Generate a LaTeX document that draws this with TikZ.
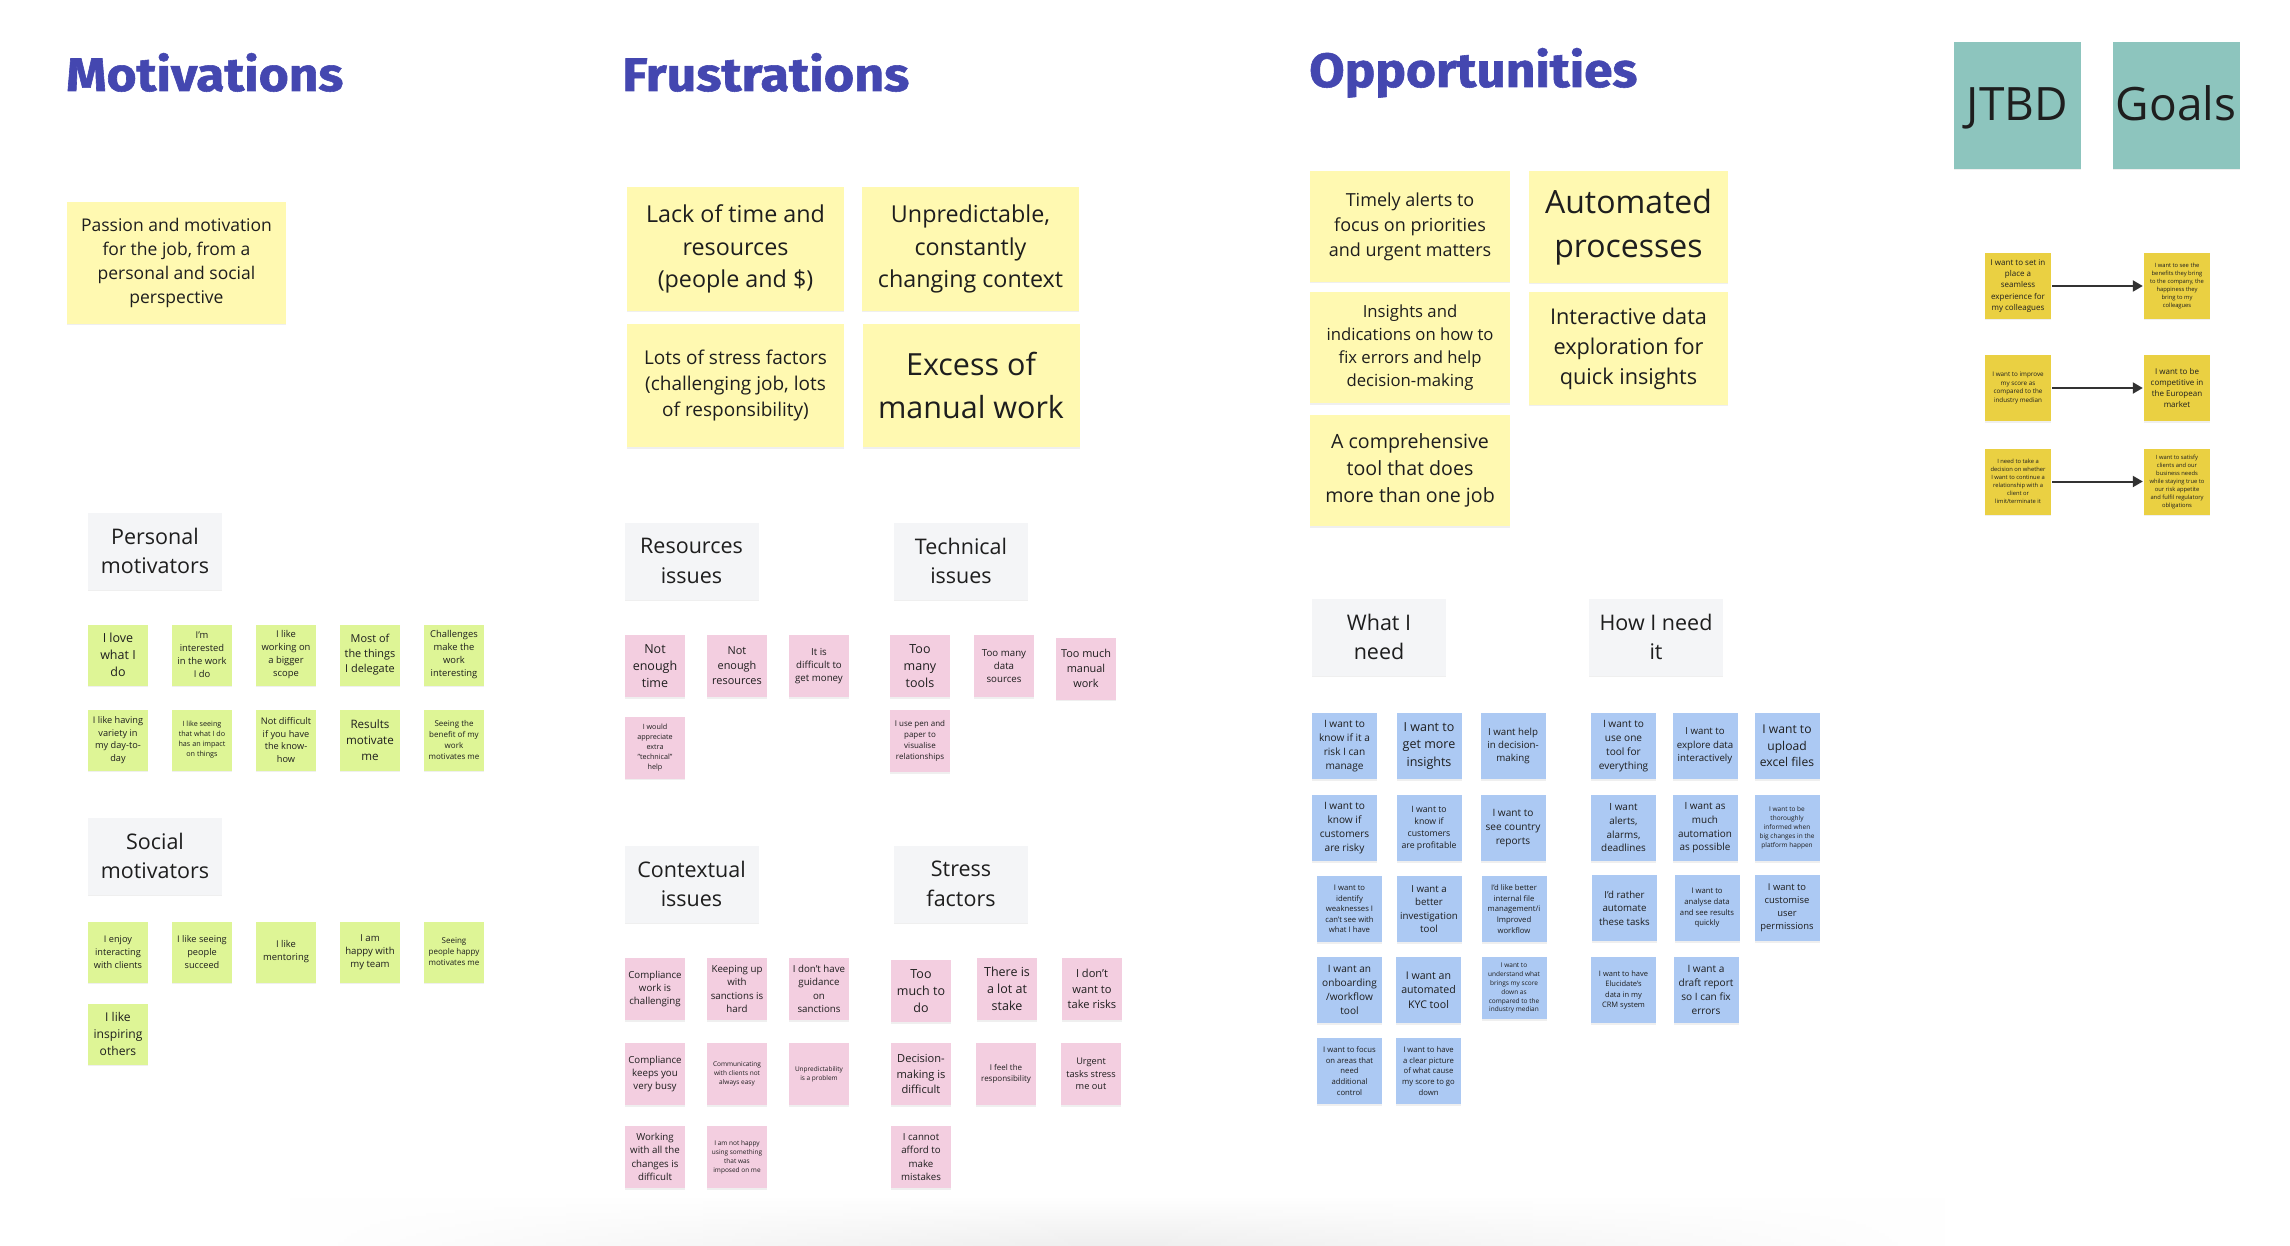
\documentclass[tikz,border=0pt]{standalone}
\usepackage{fontspec}
\setmainfont{Open Sans}
\newfontfamily\headfont{Fira Sans}[BoldFeatures={FakeBold=1.2}]
\usetikzlibrary{arrows.meta,shadows,fadings}
\definecolor{head}{RGB}{68,71,176}
\definecolor{ink}{RGB}{30,30,30}
\definecolor{ly}{RGB}{255,249,177}
\definecolor{gr}{RGB}{222,245,150}
\definecolor{pk}{RGB}{243,206,224}
\definecolor{bl}{RGB}{172,201,243}
\definecolor{tl}{RGB}{141,197,190}
\definecolor{dy}{RGB}{234,208,66}
\definecolor{card}{RGB}{244,245,247}
\definecolor{arrc}{RGB}{50,50,50}
\definecolor{band}{RGB}{238,238,238}
\newcommand\fsz[1]{\fontsize{#1}{\fpeval{#1*1.38}}\selectfont}
\tikzfading[name=fadesides, left color=transparent!100, right color=transparent!100, middle color=transparent!0]
\begin{document}
\begin{tikzpicture}[x=1pt,y=-1pt,
  note/.style={inner sep=0pt, align=center, text=ink,
    drop shadow={shadow xshift=0pt,shadow yshift=-1.5pt,opacity=0.12}},
  yn/.style={note, fill=ly},
  gn/.style={note, fill=gr, minimum width=60pt, minimum height=61pt},
  pn/.style={note, fill=pk, minimum width=60pt, minimum height=62pt},
  bn/.style={note, fill=bl, minimum width=65pt, minimum height=66pt},
  dn/.style={note, fill=dy, minimum width=66pt, minimum height=66pt},
  gc/.style={note, fill=card, minimum width=134pt, minimum height=77pt, font=\fsz{21.5}},
  tb/.style={note, fill=tl, minimum width=127pt, minimum height=127pt},
  hd/.style={anchor=base west, inner sep=0pt, text=head, font=\headfont\bfseries},
  arr/.style={draw=arrc, line width=2pt, -{Triangle[length=10pt,width=11pt]}, shorten <=1pt, shorten >=1pt}
]
\fill[white] (0,0) rectangle (2290,1246);
\useasboundingbox (0,0) rectangle (2290,1246);
\shade[top color=white, bottom color=band, path fading=fadesides] (290,1196) rectangle (1945,1246);

% headings
\node[hd] (hMot) at (66,91) {\resizebox{277pt}{38pt}{Motivations}};
\node[hd] (hFru) at (622,91) {\resizebox{287pt}{38pt}{Frustrations}};
\node[hd] (hOpp) at (1309,87) {\resizebox{328pt}{39pt}{Opportunities}};

% JTBD / Goals
\node[tb] (tJ) at (2017.5,105.5) {};
\node[anchor=base, text=ink, font=\fontsize{46}{50}\selectfont, inner sep=0pt] (tJt) at (2017.5,121) {JTBD};
\node[tb] (tG) at (2176,105.5) {};
\node[anchor=base, text=ink, font=\fontsize{46}{50}\selectfont, inner sep=0pt] (tGt) at (2176,121) {Goals};

% big yellow notes
\node[yn, minimum width=219pt, minimum height=122pt, font=\fsz{17.5}] (yPas) at (176.5,263) {Passion and motivation\\for the job, from a\\personal and social\\perspective};
\node[yn, minimum width=217pt, minimum height=124pt, font=\fsz{23.3}] (yLac) at (735.5,249) {Lack of time and\\resources\\(people and \$)};
\node[yn, minimum width=217pt, minimum height=124pt, font=\fsz{23.3}] (yUnp) at (970.5,249) {Unpredictable,\\constantly\\changing context};
\node[yn, minimum width=217pt, minimum height=123pt, font=\fsz{19}] (yLot) at (735.5,385.5) {Lots of stress factors\\(challenging job, lots\\of responsibility)};
\node[yn, minimum width=217pt, minimum height=123pt, font=\fsz{30.5}] (yExc) at (971,385.5) {Excess of\\manual work};
\node[yn, minimum width=200pt, minimum height=111pt, font=\fsz{18}] (yTim) at (1410,226.5) {Timely alerts to\\focus on priorities\\and urgent matters};
\node[yn, minimum width=199pt, minimum height=112pt, font=\fsz{32}] (yAut) at (1628.5,227) {Automated\\processes};
\node[yn, minimum width=200pt, minimum height=111pt, font=\fsz{16.7}] (yIns) at (1410,347.5) {Insights and\\indications on how to\\fix errors and help\\decision-making};
\node[yn, minimum width=199pt, minimum height=112pt, font=\fsz{21.7}] (yInt) at (1628.5,348.5) {Interactive data\\exploration for\\quick insights};
\node[yn, minimum width=200pt, minimum height=111pt, font=\fsz{19.6}] (yCom) at (1410,470.5) {A comprehensive\\tool that does\\more than one job};

% gray cards
\node[gc] (cPer) at (155,551) {Personal\\motivators};
\node[gc] (cSoc) at (155,856) {Social\\motivators};
\node[gc] (cRes) at (691.5,561) {Resources\\issues};
\node[gc] (cTec) at (961,561) {Technical\\issues};
\node[gc] (cCon) at (691.5,884) {Contextual\\issues};
\node[gc] (cStr) at (961,884) {Stress\\factors};
\node[gc] (cWha) at (1379,637) {What I\\need};
\node[gc] (cHow) at (1656,637) {How I need\\it};

% green: personal
\node[gn, font=\fsz{12.5}] (g1) at (118,655) {I love\\what I\\do};
\node[gn, font=\fsz{9.4}] (g2) at (202,655) {I'm\\interested\\in the work\\I do};
\node[gn, font=\fsz{9.4}] (g3) at (286,655) {I like\\working on\\a bigger\\scope};
\node[gn, font=\fsz{10.9}] (g4) at (370,655) {Most of\\the things\\I delegate};
\node[gn, font=\fsz{9.4}] (g5) at (454,655) {Challenges\\make the\\work\\interesting};
\node[gn, font=\fsz{9.2}] (g6) at (118,740) {I like having\\variety in\\my day-to-\\day};
\node[gn, font=\fsz{7.2}] (g7) at (202,740) {I like seeing\\that what I do\\has an impact\\on things};
\node[gn, font=\fsz{9.2}] (g8) at (286,740) {Not difficult\\if you have\\the know-\\how};
\node[gn, font=\fsz{11.6}] (g9) at (370,740) {Results\\motivate\\me};
\node[gn, font=\fsz{8}] (g10) at (454,740) {Seeing the\\benefit of my\\work\\motivates me};
% green: social
\node[gn, font=\fsz{9.2}] (s1) at (118,952) {I enjoy\\interacting\\with clients};
\node[gn, font=\fsz{9.2}] (s2) at (202,952) {I like seeing\\people\\succeed};
\node[gn, font=\fsz{9.4}] (s3) at (286,952) {I like\\mentoring};
\node[gn, font=\fsz{9.6}] (s4) at (370,952) {I am\\happy with\\my team};
\node[gn, font=\fsz{8}] (s5) at (454,952) {Seeing\\people happy\\motivates me};
\node[gn, font=\fsz{12.1}] (s6) at (118,1034) {I like\\inspiring\\others};

% pink: resources
\node[pn, font=\fsz{12.5}] (p1) at (655,666) {Not\\enough\\time};
\node[pn, font=\fsz{10.9}] (p2) at (737,666) {Not\\enough\\resources};
\node[pn, font=\fsz{9.7}] (p3) at (819,666) {It is\\difficult to\\get money};
\node[pn, font=\fsz{7.2}] (p4) at (655,747.5) {I would\\appreciate\\extra\\"technical"\\help};
% pink: technical
\node[pn, font=\fsz{12.5}] (p5) at (920,666) {Too\\many\\tools};
\node[pn, font=\fsz{9.7}] (p6) at (1004,666) {Too many\\data\\sources};
\node[pn, font=\fsz{10.9}] (p7) at (1086,668.5) {Too much\\manual\\work};
\node[pn, font=\fsz{8}] (p8) at (920,741) {I use pen and\\paper to\\visualise\\relationships};
% pink: contextual
\node[pn, font=\fsz{9.7}] (c1) at (655,989) {Compliance\\work is\\challenging};
\node[pn, font=\fsz{9.7}] (c2) at (737,989) {Keeping up\\with\\sanctions is\\hard};
\node[pn, font=\fsz{9.7}] (c3) at (819,989) {I don't have\\guidance\\on\\sanctions};
\node[pn, font=\fsz{9.7}] (c4) at (655,1074) {Compliance\\keeps you\\very busy};
\node[pn, font=\fsz{6.5}] (c5) at (737,1074) {Communicating\\with clients not\\always easy};
\node[pn, font=\fsz{6.5}] (c6) at (819,1074) {Unpredictability\\is a problem};
\node[pn, font=\fsz{9.7}] (c7) at (655,1157) {Working\\with all the\\changes is\\difficult};
\node[pn, font=\fsz{6.5}] (c8) at (737,1157) {I am not happy\\using something\\that was\\imposed on me};
% pink: stress
\node[pn, font=\fsz{12.5}] (t1) at (921,991) {Too\\much to\\do};
\node[pn, font=\fsz{12.5}] (t2) at (1007,989) {There is\\a lot at\\stake};
\node[pn, font=\fsz{11.1}] (t3) at (1092,989) {I don't\\want to\\take risks};
\node[pn, font=\fsz{11.1}] (t4) at (921,1074) {Decision-\\making is\\difficult};
\node[pn, font=\fsz{8}] (t5) at (1006,1074) {I feel the\\responsibility};
\node[pn, font=\fsz{9.2}] (t6) at (1091,1074) {Urgent\\tasks stress\\me out};
\node[pn, font=\fsz{9.7}] (t7) at (921,1157) {I cannot\\afford to\\make\\mistakes};

% blue: what I need
\node[bn, font=\fsz{10.1}] (w1) at (1344.5,746) {I want to\\know if it a\\risk I can\\manage};
\node[bn, font=\fsz{12.5}] (w2) at (1429,746) {I want to\\get more\\insights};
\node[bn, font=\fsz{9.7}] (w3) at (1513,746) {I want help\\in decision-\\making};
\node[bn, font=\fsz{10.1}] (w4) at (1344.5,828) {I want to\\know if\\customers\\are risky};
\node[bn, font=\fsz{8.7}] (w5) at (1429,828) {I want to\\know if\\customers\\are profitable};
\node[bn, font=\fsz{10.1}] (w6) at (1513,828) {I want to\\see country\\reports};
\node[bn, font=\fsz{7.7}] (w7) at (1349.5,909) {I want to\\identify\\weaknesses I\\can't see with\\what I have};
\node[bn, font=\fsz{9.7}] (w8) at (1429,909) {I want a\\better\\investigation\\tool};
\node[bn, font=\fsz{7.7}] (w9) at (1514,909) {I'd like better\\internal file\\management/i\\Improved\\workflow};
\node[bn, font=\fsz{10.1}] (w10) at (1349.5,990) {I want an\\onboarding\\/workflow\\tool};
\node[bn, font=\fsz{10.6}] (w11) at (1428.5,990) {I want an\\automated\\KYC tool};
\node[bn, font=\fsz{6.5}, minimum height=62pt] (w12) at (1514,988) {I want to\\understand what\\brings my score\\down as\\compared to the\\industry median};
\node[bn, font=\fsz{7.7}] (w13) at (1349.5,1071) {I want to focus\\on areas that\\need\\additional\\control};
\node[bn, font=\fsz{7.7}] (w14) at (1428.5,1071) {I want to have\\a clear picture\\of what cause\\my score to go\\down};

% blue: how I need it
\node[bn, font=\fsz{10.1}] (h1) at (1623.5,746) {I want to\\use one\\tool for\\everything};
\node[bn, font=\fsz{9.7}] (h2) at (1705,746) {I want to\\explore data\\interactively};
\node[bn, font=\fsz{12.1}] (h3) at (1787,746) {I want to\\upload\\excel files};
\node[bn, font=\fsz{9.9}] (h4) at (1623.5,828) {I want\\alerts,\\alarms,\\deadlines};
\node[bn, font=\fsz{9.9}] (h5) at (1705,828) {I want as\\much\\automation\\as possible};
\node[bn, font=\fsz{6.5}] (h6) at (1787,828) {I want to be\\thoroughly\\informed when\\big changes in the\\platform happen};
\node[bn, font=\fsz{9.7}] (h7) at (1624.5,908) {I'd rather\\automate\\these tasks};
\node[bn, font=\fsz{7.7}] (h8) at (1707,908) {I want to\\analyse data\\and see results\\quickly};
\node[bn, font=\fsz{9.4}] (h9) at (1787,908) {I want to\\customise\\user\\permissions};
\node[bn, font=\fsz{7.5}] (h10) at (1623.5,990) {I want to have\\Elucidate's\\data in my\\CRM system};
\node[bn, font=\fsz{10.1}] (h11) at (1706,990) {I want a\\draft report\\so I can fix\\errors};

% JTBD -> Goals
\node[dn, font=\fsz{8}] (j1) at (2018,286) {I want to set in\\place a\\seamless\\experience for\\my colleagues};
\node[dn, font=\fsz{5.8}] (k1) at (2177,286) {I want to see the\\benefits they bring\\to the company, the\\happiness they\\bring to my\\colleagues};
\node[dn, font=\fsz{6.3}] (j2) at (2018,388) {I want to improve\\my score as\\compared to the\\industry median};
\node[dn, font=\fsz{8}] (k2) at (2177,388) {I want to be\\competitive in\\the European\\market};
\node[dn, font=\fsz{5.8}] (j3) at (2018,481.5) {I need to take a\\decision on whether\\I want to continue a\\relationship with a\\client or\\limit/terminate it};
\node[dn, font=\fsz{5.8}] (k3) at (2177,481.5) {I want to satisfy\\clients and our\\business needs\\while staying true to\\our risk appetite\\and fulfil regulatory\\obligations};
\draw[arr] (j1) -- (k1);
\draw[arr] (j2) -- (k2);
\draw[arr] (j3) -- (k3);
\end{tikzpicture}
\end{document}
